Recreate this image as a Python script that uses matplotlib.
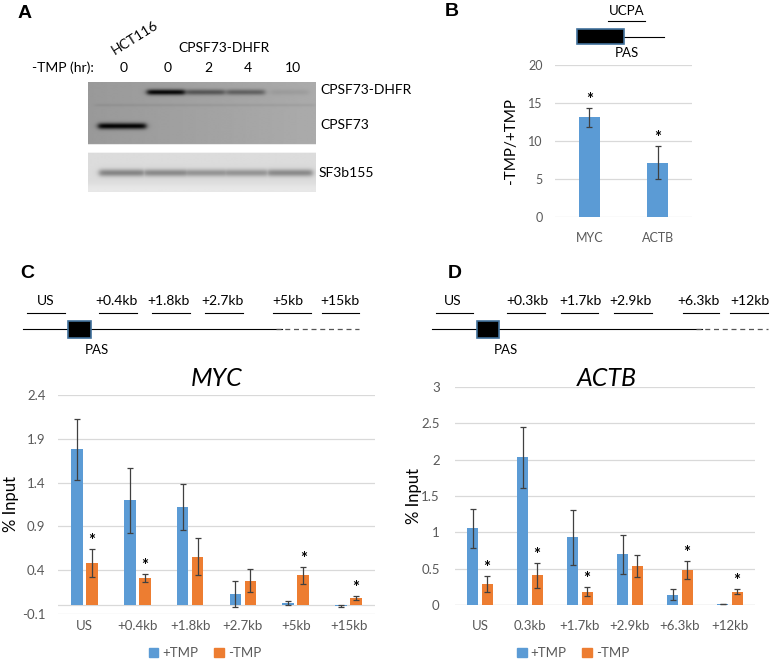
import numpy as np
import matplotlib
matplotlib.use('Agg')
import matplotlib.pyplot as plt
from matplotlib.patches import Rectangle, Patch

plt.rcParams['font.family'] = ['Lato', 'DejaVu Sans']

# ---------------- data ----------------
lane_labels = ['0', '0', '2', '4', '10']
dhfr_intensity = [0.0, 0.6, 0.30, 0.27, 0.05]
cpsf73_intensity = [0.6, 0.0, 0.0, 0.0, 0.0]
sf3b155_intensity = [0.34, 0.32, 0.28, 0.28, 0.32]

ratio_genes = ['MYC', 'ACTB']
ratio_vals = [13.1, 7.15]
ratio_err = [1.2, 2.15]
ratio_sig = [True, True]
ratio_ticks = [0, 5, 10, 15, 20]

myc_sites = ['US', '+0.4kb', '+1.8kb', '+2.7kb', '+5kb', '+15kb']
myc_plus = [1.78, 1.20, 1.12, 0.13, 0.025, -0.005]
myc_plus_err = [0.35, 0.37, 0.26, 0.15, 0.02, 0.012]
myc_minus = [0.48, 0.31, 0.555, 0.28, 0.34, 0.08]
myc_minus_err = [0.16, 0.05, 0.21, 0.13, 0.10, 0.02]
myc_sig = [True, True, False, False, True, True]
myc_ticks = [-0.1, 0.4, 0.9, 1.4, 1.9, 2.4]
myc_tick_labels = ['-0.1', '0.4', '0.9', '1.4', '1.9', '2.4']

actb_sites = ['US', '0.3kb', '+1.7kb', '+2.9kb', '+6.3kb', '+12kb']
actb_plus = [1.055, 2.03, 0.93, 0.695, 0.14, 0.012]
actb_plus_err = [0.265, 0.42, 0.38, 0.275, 0.075, 0.005]
actb_minus = [0.285, 0.41, 0.185, 0.535, 0.48, 0.18]
actb_minus_err = [0.11, 0.17, 0.065, 0.15, 0.12, 0.035]
actb_sig = [True, True, True, False, True, True]
actb_ticks = [0, 0.5, 1, 1.5, 2, 2.5, 3]
actb_tick_labels = ['0', '0.5', '1', '1.5', '2', '2.5', '3']

myc_amplicons = ['US', '+0.4kb', '+1.8kb', '+2.7kb', '+5kb', '+15kb']
actb_amplicons = ['US', '+0.3kb', '+1.7kb', '+2.9kb', '+6.3kb', '+12kb']

BLUE = '#5B9BD5'
ORANGE = '#ED7D31'
GRID = '#D9D9D9'
TICKC = '#595959'

W, H = 773, 660
fig = plt.figure(figsize=(W / 100, H / 100), dpi=100)


def add_ax(x0, y0, x1, y1):
    return fig.add_axes([x0 / W, 1 - y1 / H, (x1 - x0) / W, (y1 - y0) / H])


# overlay in pixel coordinates
ov = fig.add_axes([0, 0, 1, 1])
ov.set_xlim(0, W)
ov.set_ylim(H, 0)
ov.axis('off')

# ---------------- Panel A: western blot ----------------
bx0, bx1, by0, by1 = 88, 316, 82, 192
xs = np.arange(bx0, bx1 + 0.01, 0.5)
ys = np.arange(by0, by1 + 0.01, 0.5)
X, Y = np.meshgrid(xs, ys)
img = np.ones_like(X)
upper = (Y >= 82) & (Y <= 144)
lower = (Y >= 153) & (Y <= 192)
img[upper] = (0.60 + 0.07 * (X - bx0) / (bx1 - bx0))[upper]
img[lower] = (0.86 + 0.05 * np.exp(-((Y - 190) / 6) ** 2))[lower]

lane_x = [122, 166, 206, 246, 290]


def band(xc, hw, yc, sig, amp):
    px = 1 / (1 + np.exp(-(X - (xc - hw)) / 1.5)) * 1 / (1 + np.exp((X - (xc + hw)) / 1.5))
    py = np.exp(-0.5 * ((Y - yc) / sig) ** 2)
    return amp * px * py


sf_band = np.zeros_like(X)
for i, xc in enumerate(lane_x):
    img -= band(xc, 19, 92, 2.0, dhfr_intensity[i])
    img -= band(xc, 24, 126, 2.2, cpsf73_intensity[i])
    sf_band = np.maximum(sf_band, band(xc, 23, 173, 2.6, sf3b155_intensity[i]))
img -= sf_band * lower
img -= band(205, 110, 105, 1.0, 0.04) * upper
img = np.clip(img, 0, 1)
ov.imshow(img, cmap='gray', vmin=0, vmax=1, extent=(bx0, bx1, by1, by0),
          aspect='auto', interpolation='bilinear', zorder=1)
ov.set_xlim(0, W)
ov.set_ylim(H, 0)

ov.text(25, 14, 'A', fontsize=14, fontweight='bold', family='Liberation Sans', ha='center', va='center')
ov.text(135, 38, 'HCT116', fontsize=10, rotation=32, ha='center', va='center')
ov.text(224, 48, 'CPSF73-DHFR', fontsize=10, ha='center', va='center')
ov.text(63, 68, '-TMP (hr):', fontsize=10, ha='center', va='center')
for lx, lab in zip([124, 168, 208, 248, 293], lane_labels):
    ov.text(lx, 68, lab, fontsize=10, ha='center', va='center')
ov.text(320, 90, 'CPSF73-DHFR', fontsize=10, ha='left', va='center')
ov.text(320, 125, 'CPSF73', fontsize=10, ha='left', va='center')
ov.text(319, 173, 'SF3b155', fontsize=10, ha='left', va='center')

# ---------------- Panel B ----------------
ov.text(452, 12, 'B', fontsize=14, fontweight='bold', family='Liberation Sans', ha='center', va='center')
ov.text(627, 11, 'UCPA', fontsize=9.5, ha='center', va='center')
ov.plot([608, 645], [21, 21], color='black', lw=0.8)
ov.plot([624, 664], [37, 37], color='black', lw=0.8)
ov.add_patch(Rectangle((577, 29), 47, 15, facecolor='black', edgecolor='#41719C', lw=1.2, zorder=3))
ov.text(627, 53, 'PAS', fontsize=9.5, ha='center', va='center')

axB = add_ax(555, 65, 692, 217)
xb = np.arange(len(ratio_genes))
axB.bar(xb, ratio_vals, 0.31, color=BLUE, zorder=3)
axB.errorbar(xb, ratio_vals, yerr=ratio_err, fmt='none', ecolor='#404040',
             elinewidth=0.9, capsize=2.5, capthick=0.9, zorder=4)
for i, s in enumerate(ratio_sig):
    if s:
        axB.annotate('*', (xb[i], ratio_vals[i] + ratio_err[i]), xytext=(0, 0),
                     textcoords='offset points', ha='center', va='bottom',
                     fontsize=12, fontweight='bold')
axB.set_xlim(-0.5, len(ratio_genes) - 0.5)
axB.set_ylim(0, 20)
axB.set_yticks(ratio_ticks)
axB.set_xticks(xb)
axB.set_xticklabels(ratio_genes)
axB.yaxis.grid(True, color=GRID, lw=0.9)
axB.set_axisbelow(True)
for sp in axB.spines.values():
    sp.set_visible(False)
axB.tick_params(length=0, labelcolor=TICKC, labelsize=9)
axB.tick_params(axis='y', pad=9)
axB.tick_params(axis='x', pad=11)
axB.set_ylabel('-TMP/+TMP', fontsize=11, labelpad=7)

# ---------------- Schematics C and D ----------------
def schematic(x_letter, letter, labels, label_x, seg, line_x0, solid_end, dash_end, box, pas_x):
    ov.text(x_letter, 274, letter, fontsize=14, fontweight='bold', family='Liberation Sans',
            ha='center', va='center')
    for lab, lx, (s0, s1) in zip(labels, label_x, seg):
        ov.text(lx, 301, lab, fontsize=10, ha='center', va='center')
        ov.plot([s0, s1], [313, 313], color='black', lw=0.8)
    ov.plot([line_x0, solid_end], [329, 329], color='black', lw=0.8)
    ov.plot([solid_end - 6, dash_end], [329, 329], color='#555555', lw=0.9, dashes=(4, 3))
    ov.add_patch(Rectangle((box[0], 321), box[1] - box[0], 17, facecolor='black',
                           edgecolor='#41719C', lw=1.2, zorder=3))
    ov.text(pas_x, 350, 'PAS', fontsize=9.5, ha='center', va='center')


schematic(27, 'C', myc_amplicons, [46, 117, 168, 223, 288, 340],
          [(27, 65), (99, 137), (152, 190), (205, 243), (273, 311), (322, 359)],
          23, 282, 359, (68, 91), 97)
schematic(455, 'D', actb_amplicons, [453, 527, 580, 631, 698, 750],
          [(436, 473), (507, 545), (561, 598), (614, 652), (683, 719), (730, 768)],
          432, 702, 768, (477, 499), 506)


# ---------------- ChIP charts ----------------
def chip(ax, sites, plus, perr, minus, merr, sig, ticks, tlabels, ylim, title, tx):
    n = len(sites)
    x = np.arange(n)
    off, w = 0.142, 0.22
    ax.bar(x - off, plus, w, color=BLUE, zorder=3)
    ax.bar(x + off, minus, w, color=ORANGE, zorder=3)
    ax.errorbar(x - off, plus, yerr=perr, fmt='none', ecolor='#404040',
                elinewidth=0.9, capsize=2.5, capthick=0.9, zorder=4)
    ax.errorbar(x + off, minus, yerr=merr, fmt='none', ecolor='#404040',
                elinewidth=0.9, capsize=2.5, capthick=0.9, zorder=4)
    for i, s in enumerate(sig):
        if s:
            ax.annotate('*', (x[i] + off, minus[i] + merr[i]), xytext=(0, 0),
                        textcoords='offset points', ha='center', va='bottom',
                        fontsize=12, fontweight='bold')
    ax.set_xlim(-0.5, n - 0.5)
    ax.set_ylim(*ylim)
    ax.set_yticks(ticks)
    ax.set_yticklabels(tlabels)
    ax.set_xticks(x)
    ax.set_xticklabels(sites)
    ax.yaxis.grid(True, color=GRID, lw=0.9)
    ax.axhline(0, color=GRID, lw=0.9, zorder=2)
    ax.set_axisbelow(True)
    for sp in ax.spines.values():
        sp.set_visible(False)
    ax.tick_params(length=0, labelcolor=TICKC, labelsize=9.5)
    ax.set_ylabel('% Input', fontsize=12)
    ov.text(tx, 378, title, fontsize=18, style='italic', ha='center', va='center')


axC = add_ax(58, 395, 375, 614)
chip(axC, myc_sites, myc_plus, myc_plus_err, myc_minus, myc_minus_err, myc_sig,
     myc_ticks, myc_tick_labels, (-0.1, 2.4), 'MYC', 217)
axC.tick_params(axis='y', pad=9)
axC.tick_params(axis='x', pad=4)
axC.yaxis.set_label_coords(-39 / 317, 0.5)

axD = add_ax(455, 387, 755, 605)
chip(axD, actb_sites, actb_plus, actb_plus_err, actb_minus, actb_minus_err, actb_sig,
     actb_ticks, actb_tick_labels, (0, 3), 'ACTB', 607)
axD.tick_params(axis='y', pad=11)
axD.tick_params(axis='x', pad=11)
axD.yaxis.set_label_coords(-33 / 300, 0.5)

handles = [Patch(color=BLUE, label='+TMP'), Patch(color=ORANGE, label='-TMP')]
for cx in (205, 573):
    fig.legend(handles=handles, loc='center', bbox_to_anchor=(cx / W, 1 - 653 / H), ncol=2,
               frameon=False, fontsize=9.5, handlelength=0.75, handleheight=0.75,
               handletextpad=0.3, columnspacing=1.2, labelcolor=TICKC)

fig.savefig('out.png', dpi=100)
